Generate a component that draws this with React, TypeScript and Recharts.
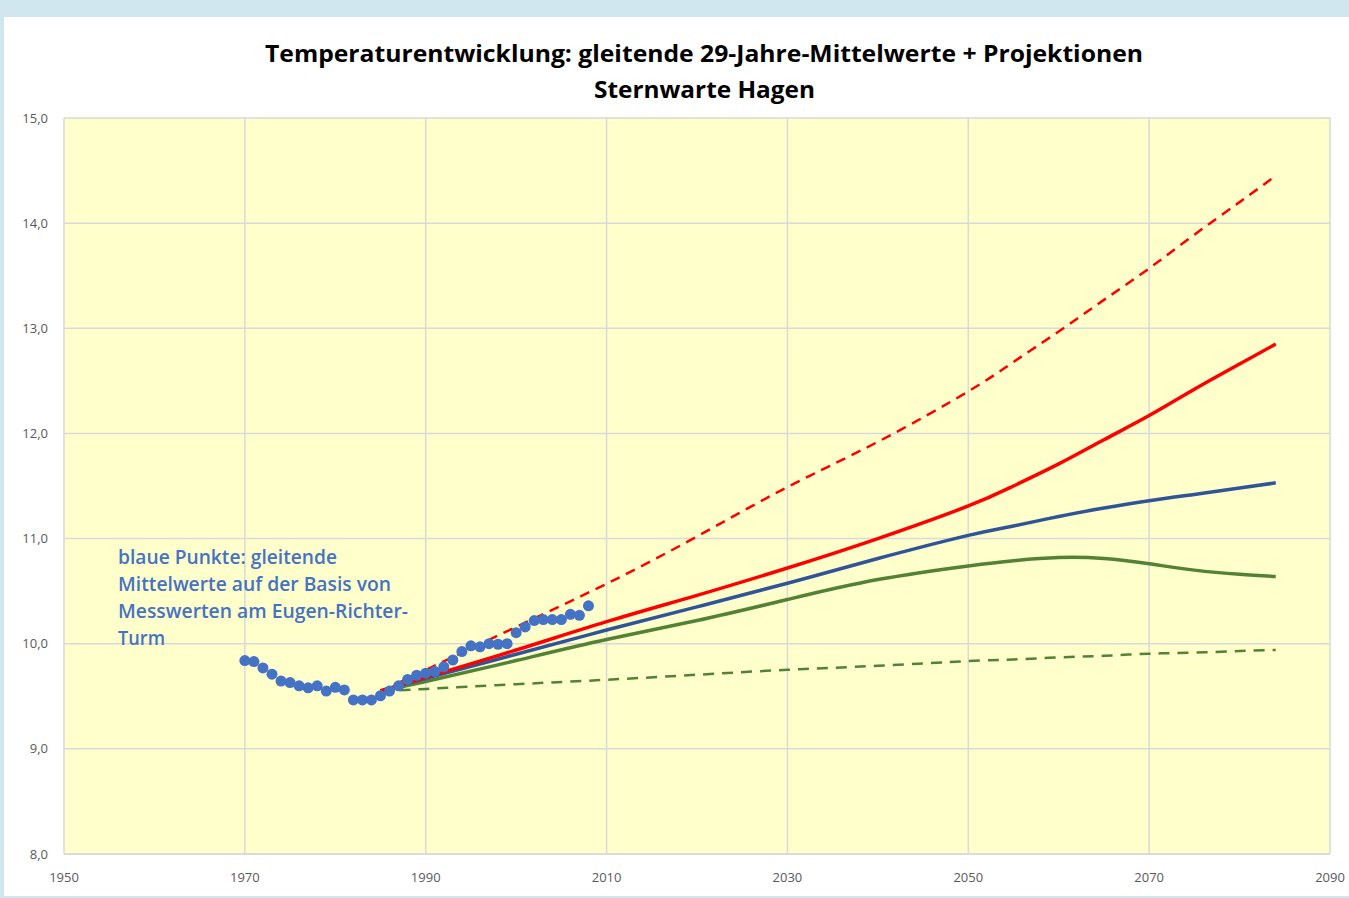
import React from 'react';
import {
  ComposedChart,
  Line,
  Scatter,
  XAxis,
  YAxis,
  CartesianGrid,
} from 'recharts';

// -----------------------------------------------------------------------------
// Data
// -----------------------------------------------------------------------------

const dotYears = [
  1970, 1971, 1972, 1973, 1974, 1975, 1976, 1977, 1978, 1979,
  1980, 1981, 1982, 1983, 1984, 1985, 1986, 1987, 1988, 1989,
  1990, 1991, 1992, 1993, 1994, 1995, 1996, 1997, 1998, 1999,
  2000, 2001, 2002, 2003, 2004, 2005, 2006, 2007, 2008,
];
const dotValues = [
  9.84, 9.83, 9.77, 9.71, 9.645, 9.63, 9.6, 9.58, 9.6, 9.55,
  9.585, 9.56, 9.465, 9.465, 9.465, 9.505, 9.55, 9.6, 9.66, 9.7,
  9.72, 9.735, 9.78, 9.845, 9.925, 9.98, 9.97, 10.0, 9.995, 10.0,
  10.105, 10.16, 10.22, 10.23, 10.23, 10.23, 10.28, 10.27, 10.36,
];

const projYears = [1985, 1990, 2000, 2010, 2020, 2030, 2040, 2050, 2055, 2060, 2065, 2070, 2075, 2080, 2084];
const redDashed = [9.55, 9.75, 10.16, 10.57, 11.02, 11.49, 11.92, 12.4, 12.68, 12.97, 13.27, 13.57, 13.89, 14.2, 14.45];
const redSolid = [9.55, 9.68, 9.94, 10.21, 10.46, 10.72, 11.0, 11.31, 11.5, 11.71, 11.94, 12.17, 12.42, 12.66, 12.85];
const blueSolid = [9.55, 9.67, 9.9, 10.13, 10.35, 10.575, 10.81, 11.03, 11.12, 11.21, 11.29, 11.36, 11.42, 11.48, 11.53];
const greenSolid = [9.55, 9.64, 9.84, 10.04, 10.22, 10.42, 10.61, 10.74, 10.79, 10.82, 10.81, 10.76, 10.7, 10.66, 10.64];
const greenDashed = [9.55, 9.57, 9.615, 9.657, 9.705, 9.752, 9.79, 9.835, 9.85, 9.87, 9.885, 9.905, 9.915, 9.93, 9.94];

const xTicks = [1950, 1970, 1990, 2010, 2030, 2050, 2070, 2090];
const yTicks = [8, 9, 10, 11, 12, 13, 14, 15];

const titleLines = [
  'Temperaturentwicklung: gleitende 29-Jahre-Mittelwerte + Projektionen',
  'Sternwarte Hagen',
];
const noteLines = [
  'blaue Punkte: gleitende',
  'Mittelwerte auf der Basis von',
  'Messwerten am Eugen-Richter-',
  'Turm',
];

const dots = dotYears.map((year, i) => ({ year, t: dotValues[i] }));
const projections = projYears.map((year, i) => ({
  year,
  redDashed: redDashed[i],
  redSolid: redSolid[i],
  blueSolid: blueSolid[i],
  greenSolid: greenSolid[i],
  greenDashed: greenDashed[i],
}));

// -----------------------------------------------------------------------------
// Styles
// -----------------------------------------------------------------------------

const FONT = "'Open Sans', 'Noto Sans', sans-serif";
const GRID = '#d9d9d9';
const TICK = { fontSize: 13, fill: '#595959', fontFamily: FONT };

const fmtY = (v: number) => v.toFixed(1).replace('.', ',');

export default function App() {
  return (
    <div
      style={{
        position: 'fixed',
        left: 0,
        top: 0,
        width: 1349,
        height: 898,
        background: '#d0e7ef',
        overflow: 'hidden',
      }}
    >
      <div
        style={{
          position: 'absolute',
          left: 4,
          top: 17,
          width: 1345,
          height: 879,
          background: '#ffffff',
        }}
      />
      <div style={{ position: 'absolute', left: 0, top: 0 }}>
        <ComposedChart
          width={1349}
          height={898}
          data={projections}
          margin={{ top: 118, right: 19, bottom: 0, left: 4 }}
        >
          <CartesianGrid stroke={GRID} strokeWidth={1.5} fill="#ffffcc" />
          <XAxis
            dataKey="year"
            type="number"
            domain={[1950, 2090]}
            ticks={xTicks}
            allowDataOverflow
            height={44}
            tickLine={false}
            axisLine={{ stroke: GRID, strokeWidth: 1.5 }}
            tick={TICK}
            tickMargin={13}
          />
          <YAxis
            type="number"
            domain={[8, 15]}
            ticks={yTicks}
            width={60}
            tickLine={false}
            axisLine={false}
            tick={TICK}
            tickMargin={10}
            tickFormatter={fmtY}
          />
          <Scatter
            data={dots}
            dataKey="t"
            fill="#4472c4"
            shape={(p: any) => <circle cx={p.cx} cy={p.cy} r={5.5} fill="#4472c4" />}
            isAnimationActive={false}
          />
          <Line
            dataKey="greenDashed"
            type="natural"
            stroke="#548235"
            strokeWidth={2.5}
            strokeDasharray="11 8"
            dot={false}
            isAnimationActive={false}
          />
          <Line
            dataKey="greenSolid"
            type="natural"
            stroke="#548235"
            strokeWidth={3.5}
            dot={false}
            isAnimationActive={false}
          />
          <Line
            dataKey="blueSolid"
            type="natural"
            stroke="#2f5597"
            strokeWidth={3.5}
            dot={false}
            isAnimationActive={false}
          />
          <Line
            dataKey="redSolid"
            type="natural"
            stroke="#ff0000"
            strokeWidth={3.5}
            dot={false}
            isAnimationActive={false}
          />
          <Line
            dataKey="redDashed"
            type="natural"
            stroke="#ff0000"
            strokeWidth={2.5}
            strokeDasharray="10 7"
            dot={false}
            isAnimationActive={false}
          />
        </ComposedChart>
      </div>
      <svg
        width={1349}
        height={898}
        style={{ position: 'absolute', left: 0, top: 0, pointerEvents: 'none' }}
      >
        <text
          x={265}
          y={62}
          fontFamily={FONT}
          fontWeight={700}
          fontSize={24}
          fill="#000"
          textLength={878}
          lengthAdjust="spacingAndGlyphs"
        >
          {titleLines[0]}
        </text>
        <text
          x={594}
          y={98}
          fontFamily={FONT}
          fontWeight={700}
          fontSize={24}
          fill="#000"
          textLength={221}
          lengthAdjust="spacingAndGlyphs"
        >
          {titleLines[1]}
        </text>
        {noteLines.map((line, i) => (
          <text
            key={line}
            x={118}
            y={564 + i * 27}
            fontFamily={FONT}
            fontWeight={600}
            fontSize={19}
            fill="#4472c4"
            textLength={[219, 273, 290, 47][i]}
            lengthAdjust="spacingAndGlyphs"
          >
            {line}
          </text>
        ))}
      </svg>
    </div>
  );
}
